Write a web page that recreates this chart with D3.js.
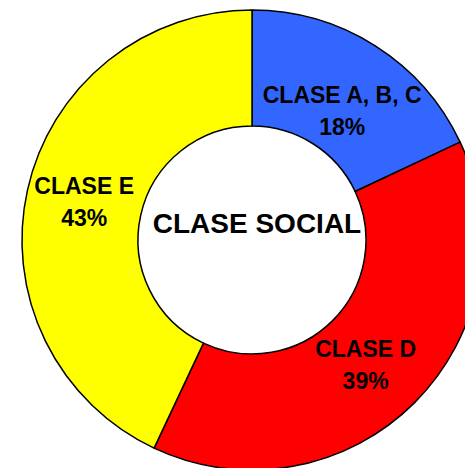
<!DOCTYPE html>
<html>
  <head>
    <script src="https://d3js.org/d3.v7.min.js"></script>
    <style>
      body { margin: 0; background: #fff; }
      text { font-family: "Liberation Sans", Arial, sans-serif; font-weight: bold; fill: #000; }
    </style>
  </head>
  <body>
    <svg width="465" height="468"></svg>
    <script>
      const categories = ["CLASE A, B, C", "CLASE D", "CLASE E"];
      const values = [18, 39, 43];
      const colors = ["#3366ff", "#ff0000", "#ffff00"];
      const title = "CLASE SOCIAL";

      const svg = d3.select("svg");
      const cx = 252, cy = 240;
      const outerR = 230, innerR = 114;

      // small nudges so labels sit where the original put them
      const nudge = [[-2, 16], [-8, 3], [0, 0]];

      const data = categories.map((c, i) => ({ name: c, value: values[i], color: colors[i], i }));

      const pie = d3.pie().value(d => d.value).sort(null);
      const arc = d3.arc().innerRadius(innerR).outerRadius(outerR);

      const g = svg.append("g").attr("transform", `translate(${cx},${cy})`);
      const arcs = pie(data);

      g.selectAll("path")
        .data(arcs)
        .enter().append("path")
          .attr("d", arc)
          .attr("fill", d => d.data.color)
          .attr("stroke", "#000")
          .attr("stroke-width", 1.5)
          .attr("stroke-linejoin", "round");

      const labels = g.selectAll("text.lbl")
        .data(arcs)
        .enter().append("text")
          .attr("class", "lbl")
          .attr("text-anchor", "middle")
          .attr("font-size", 23)
          .attr("transform", d => {
            const [x, y] = arc.centroid(d);
            const n = nudge[d.data.i];
            return `translate(${x + n[0]},${y + n[1]})`;
          });
      labels.append("tspan")
        .attr("x", 0).attr("y", -8)
        .text(d => d.data.name);
      labels.append("tspan")
        .attr("x", 0).attr("y", 24)
        .text(d => d.data.value + "%");

      g.append("text")
        .attr("text-anchor", "middle")
        .attr("x", 5)
        .attr("y", -7)
        .attr("font-size", 28)
        .text(title);
    </script>
  </body>
</html>
